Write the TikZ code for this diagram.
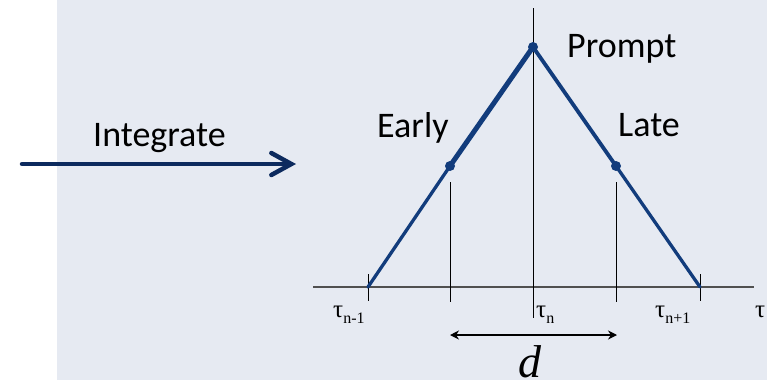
\documentclass[tikz,border=0pt]{standalone}
\usepackage{fontspec}
\setmainfont{Carlito}
\newfontfamily\tms{Liberation Serif}
\usetikzlibrary{arrows.meta}
\definecolor{bgcol}{HTML}{E6EAF2}
\definecolor{tricol}{HTML}{123C7C}
\definecolor{navycol}{HTML}{0C2A5E}
\definecolor{axiscol}{HTML}{505050}
\newcommand{\tsub}[2]{{\tms\fontsize{25}{25}\selectfont τ}\raisebox{-6pt}{\tms\fontsize{16}{16}\selectfont #1}}
\begin{document}
\begin{tikzpicture}[x=1pt,y=-1pt,
 lbl/.style={anchor=base west,inner sep=0pt,font=\fontsize{36}{36}\selectfont},
 tickline/.style={line width=0.8pt, black},
 triline/.style={draw=tricol, line cap=round},
 dotnode/.style={circle, fill=tricol, inner sep=0pt, minimum size=10pt},
 taulbl/.style={anchor=base west, inner sep=0pt}
]
\useasboundingbox (0,0) rectangle (767,380);
\fill[bgcol] (57,0) rectangle (767,380);

% axis
\coordinate (ax0) at (313,287);
\coordinate (ax1) at (754,287);
\draw[axiscol, line width=1.5pt] (ax0) -- (ax1);

% ticks
\coordinate (k1a) at (368,274); \coordinate (k1b) at (368,301);
\coordinate (k2a) at (450,182); \coordinate (k2b) at (450,302);
\coordinate (k3a) at (533,8);   \coordinate (k3b) at (533,318);
\coordinate (k4a) at (616,182); \coordinate (k4b) at (616,302);
\coordinate (k5a) at (700,274); \coordinate (k5b) at (700,301);
\draw[tickline] (k1a) -- (k1b);
\draw[tickline] (k2a) -- (k2b);
\draw[tickline] (k3a) -- (k3b);
\draw[tickline] (k4a) -- (k4b);
\draw[tickline] (k5a) -- (k5b);

% triangle
\coordinate (A) at (368,287);
\coordinate (B) at (700,287);
\node[dotnode] (E) at (450,166) {};
\node[dotnode] (P) at (533,47) {};
\node[dotnode] (L) at (616,166) {};
\draw[triline, line width=3.3pt] (A) -- (E.center);
\draw[triline, line width=5pt] (E.center) -- (P.center);
\draw[triline, line width=3.8pt] (P.center) -- (L.center);
\draw[triline, line width=3.3pt] (L.center) -- (B);

% labels
\node[lbl] (integ) at (93,146) {Integrate};
\node[lbl] (early) at (377,137) {Early};
\node[lbl] (late) at (618,136) {Late};
\node[lbl] (prompt) at (567,57) {Prompt};

% input arrow
\coordinate (in0) at (22,164);
\coordinate (in1) at (296,164);
\draw[navycol, line width=4.5pt, line cap=round,
  -{Straight Barb[length=20pt, width=22pt, line cap=round]}] (in0) -- (in1);

% tau labels
\node[taulbl] (t1) at (333,317) {\tsub{n-1}{}};
\node[taulbl] (t2) at (536,317) {\tsub{n}{}};
\node[taulbl] (t3) at (655,317) {\tsub{n+1}{}};
\node[taulbl] (t4) at (755,317) {\tms\fontsize{25}{25}\selectfont τ};

% d arrow
\coordinate (d0) at (450,335);
\coordinate (d1) at (617,335);
\draw[black, line width=1.5pt, {Stealth[length=9pt,width=9pt]}-{Stealth[length=9pt,width=9pt]}] (d0) -- (d1);
\node[anchor=base, inner sep=0pt, font=\tms\itshape\fontsize{46}{46}\selectfont] (dl) at (530,377) {d};
\end{tikzpicture}
\end{document}
